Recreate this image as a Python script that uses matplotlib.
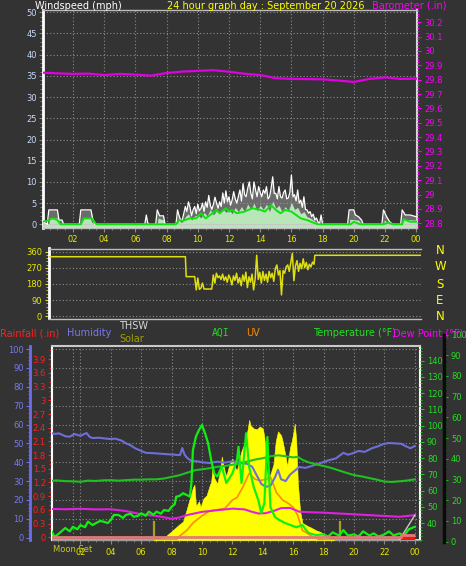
import matplotlib
matplotlib.use('Agg')
import matplotlib.pyplot as plt
import numpy as np
from matplotlib.ticker import FixedLocator, FuncFormatter, MultipleLocator

W, H = 466, 566
BG = '#333333'
GRID = '#8a8a8a'

# ---------------- data ----------------
hour_ticks = [2, 4, 6, 8, 10, 12, 14, 16, 18, 20, 22, 24]
hour_labels = ['02', '04', '06', '08', '10', '12', '14', '16', '18', '20', '22', '00']

baro_t = list(range(25))
baro = [29.849, 29.844, 29.840, 29.842, 29.832, 29.840, 29.835, 29.828, 29.846, 29.856,
        29.861, 29.866, 29.855, 29.841, 29.832, 29.810, 29.805, 29.804, 29.802, 29.794,
        29.784, 29.805, 29.816, 29.805, 29.807]

gust_t = [0.0, 0.15, 0.35, 0.45, 1.0, 1.1, 1.3, 1.4, 2.4, 2.5, 3.15, 3.25, 3.4, 6.6, 6.7, 6.8,
          7.3, 7.4, 7.55, 7.8, 7.9, 8.6, 8.7, 8.8, 8.9,
          9.0, 9.1, 9.2, 9.3, 9.4, 9.5, 9.6, 9.7, 9.8, 9.9,
          10.0, 10.1, 10.2, 10.3, 10.4, 10.5, 10.6, 10.7, 10.8, 10.9,
          11.0, 11.1, 11.2, 11.3, 11.4, 11.5, 11.6, 11.7, 11.8, 11.9,
          12.0, 12.1, 12.2, 12.3, 12.4, 12.5, 12.6, 12.7, 12.8, 12.9,
          13.0, 13.1, 13.2, 13.3, 13.4, 13.5, 13.6, 13.7, 13.8, 13.9,
          14.0, 14.1, 14.2, 14.3, 14.4, 14.5, 14.6, 14.7, 14.8, 14.9,
          15.0, 15.1, 15.2, 15.3, 15.4, 15.5, 15.6, 15.7, 15.8, 15.9,
          16.0, 16.1, 16.2, 16.3, 16.4, 16.5, 16.6, 16.7, 16.8, 16.9,
          17.0, 17.1, 17.2, 17.3, 17.4, 17.5, 17.6, 17.7, 17.8, 17.9, 18.0,
          18.1, 19.6, 19.7, 20.0, 20.1, 20.3, 20.5, 20.6, 21.8, 21.9, 22.1, 22.3, 22.5,
          23.0, 23.1, 23.3, 23.6, 24.0]
gust = [2.2, 0.5, 0.0, 3.4, 3.4, 1.0, 1.0, 0.0, 0.0, 3.4, 3.4, 1.5, 0.0, 0.0, 2.2, 0.0,
        0.0, 3.4, 2.0, 2.0, 0.0, 0.0, 3.4, 2.0, 1.0,
        1.0, 2.5, 4.2, 3.0, 5.3, 4.0, 2.0, 3.4, 4.2, 2.5,
        4.7, 3.2, 3.7, 5.0, 3.0, 5.3, 4.0, 6.8, 4.5, 3.5,
        4.7, 6.4, 5.0, 3.8, 5.3, 4.2, 7.4, 5.0, 7.9, 5.3,
        6.5, 4.5, 5.7, 7.7, 6.0, 5.0, 6.5, 8.1, 5.5, 9.6,
        7.0, 6.5, 8.5, 10.0, 7.3, 6.0, 10.0, 8.1, 6.5, 8.9,
        7.5, 6.5, 8.1, 7.3, 8.9, 6.0, 6.5, 8.5, 11.2, 7.3,
        7.3, 6.0, 8.9, 6.5, 6.2, 7.5, 8.1, 6.0, 6.2, 7.5,
        11.6, 6.5, 7.0, 5.5, 8.1, 5.0, 5.7, 4.0, 6.5, 3.5,
        3.4, 2.6, 3.0, 1.8, 2.4, 1.0, 1.5, 0.6, 0.0, 2.2, 0.0,
        0.0, 0.0, 3.4, 3.4, 2.2, 1.8, 1.0, 0.0, 0.0, 3.4, 1.8, 0.6, 0.0,
        0.0, 3.4, 2.2, 2.2, 1.8]

speed_t = [0.0, 0.2, 0.45, 0.5, 1.0, 1.1, 1.3, 2.5, 2.6, 3.1, 3.2, 3.4, 6.7, 6.75, 6.85,
           7.4, 7.45, 7.8, 7.9, 8.7, 8.75, 8.9,
           9.0, 9.2, 9.4, 9.6, 9.8, 10.0, 10.2, 10.4, 10.6, 10.8, 11.0, 11.2, 11.4, 11.6, 11.8,
           12.0, 12.2, 12.4, 12.6, 12.8, 13.0, 13.2, 13.4, 13.6, 13.8, 14.0, 14.2, 14.4, 14.6,
           14.8, 15.0, 15.2, 15.4, 15.6, 15.8, 16.0, 16.2, 16.4, 16.6, 16.8, 17.0, 17.2, 17.4,
           17.6, 17.8, 18.0,
           19.7, 19.75, 20.3, 20.5, 21.9, 21.95, 22.3, 23.1, 23.15, 24.0]
speed = [1.0, 0.0, 0.0, 1.5, 1.5, 0.5, 0.0, 0.0, 1.5, 1.5, 0.5, 0.0, 0.0, 1.0, 0.0,
         0.0, 1.5, 1.0, 0.0, 0.0, 1.5, 0.5,
         0.5, 1.8, 2.5, 1.0, 2.0, 2.2, 1.5, 2.8, 2.0, 3.5, 2.2, 3.2, 2.5, 3.8, 2.8,
         3.5, 2.5, 4.0, 3.0, 4.2, 3.0, 4.8, 3.5, 5.0, 3.2, 4.5, 3.5, 4.8, 3.0,
         5.5, 3.8, 4.5, 3.0, 4.2, 3.2, 5.2, 3.5, 4.0, 2.5, 3.0, 1.8, 1.5, 1.0,
         0.5, 0.2, 0.0,
         0.0, 1.2, 1.0, 0.0, 0.0, 1.0, 0.0, 0.0, 1.2, 1.0]

avg_t = [0, 0.3, 0.7, 1.0, 1.2, 2.5, 2.7, 3.2, 3.5, 8.6, 8.8, 9.0, 9.5, 9.9, 10.2, 10.5,
         10.8, 11.2, 11.4, 11.8, 12.0, 12.2, 12.5, 13.0, 13.5, 14.0, 14.3, 14.7, 15.0, 15.3,
         15.6, 16.0, 16.3, 16.6, 17.0, 17.4, 17.7, 19.8, 20.0, 20.4, 21.9, 22.2, 22.5, 23.1,
         23.2, 23.6, 24.0]
avg = [0.6, 0.8, 1.4, 1.0, 0.0, 0.0, 1.4, 1.4, 0.0, 0.0, 1.0, 0.8, 1.4, 1.4, 2.6, 1.4,
       2.2, 3.4, 2.6, 3.8, 3.0, 3.4, 2.6, 3.0, 3.8, 3.4, 3.0, 4.5, 3.4, 2.6,
       3.4, 3.0, 2.2, 1.4, 1.0, 0.4, 0.0, 0.0, 0.6, 0.0, 0.0, 0.4, 0.0, 0.0,
       1.2, 0.6, 0.6]

dir_t = [0.0, 8.8, 8.85, 9.4,
         9.5, 9.6, 9.7, 9.8, 9.9, 10.0, 10.1, 10.2, 10.3, 10.4, 10.5, 10.6, 10.7, 10.8, 10.9,
         11.0, 11.1, 11.2, 11.3, 11.4, 11.5, 11.6, 11.7, 11.8, 11.9,
         12.0, 12.1, 12.2, 12.3, 12.4, 12.5, 12.6, 12.7, 12.8, 12.9,
         13.0, 13.1, 13.2, 13.3, 13.4, 13.5, 13.6, 13.7, 13.8, 13.9,
         14.0, 14.1, 14.2, 14.3, 14.4, 14.5, 14.6, 14.7, 14.8, 14.9,
         15.0, 15.1, 15.2, 15.3, 15.4, 15.5, 15.6, 15.7, 15.8, 15.9,
         16.0, 16.1, 16.2, 16.3, 16.4, 16.5, 16.6, 16.7, 16.8, 16.9,
         17.0, 17.1, 17.15, 24.0]
dir_v = [332, 332, 221, 221,
         147, 213, 150, 157, 185, 152, 152, 152, 152, 152, 152, 230, 185, 240, 215,
         225, 205, 235, 200, 220, 190, 230, 210, 175, 225,
         200, 240, 185, 215, 170, 230, 195, 246, 160, 220,
         190, 235, 147, 210, 340, 205, 245, 185, 250, 200,
         235, 190, 250, 215, 240, 195, 265, 286, 230, 255,
         119, 255, 240, 275, 286, 250, 300, 351, 198, 280,
         310, 250, 295, 265, 320, 270, 300, 260, 290, 275,
         302, 290, 340, 340]

hum_t = [0, 0.3, 0.6, 1.0, 1.3, 1.6, 2.0, 2.4, 2.6, 2.8, 3.2, 3.6, 4.0, 4.3, 4.7, 5.0, 5.3,
         5.6, 6.0, 6.3, 6.8, 7.3, 7.8, 8.2, 8.55, 8.7, 8.85, 9.0, 9.3, 9.7, 10.0, 10.5, 11.0,
         11.5, 12.0, 12.5, 13.0, 13.3, 13.6, 13.9, 14.2, 14.5, 14.8, 15.0, 15.2, 15.5, 15.8,
         16.1, 16.4, 16.8, 17.2, 17.8, 18.3, 18.8, 19.3, 19.6, 19.9, 20.3, 20.7, 21.2, 21.6,
         21.9, 22.3, 22.7, 23.1, 23.4, 23.7, 24.0]
hum = [55.6, 55.0, 55.3, 53.8, 53.5, 55.0, 54.0, 55.5, 53.5, 52.8, 53.0, 52.6, 52.3, 52.5,
       51.5, 50.0, 49.0, 47.4, 46.0, 45.0, 44.8, 44.5, 44.2, 44.0, 43.8, 47.5, 44.0, 42.5,
       40.6, 40.5, 40.0, 39.6, 40.3, 39.8, 40.5, 40.0, 39.0, 37.6, 33.0, 28.5, 27.0, 27.5,
       32.0, 36.0, 31.0, 30.0, 33.5, 35.5, 37.5, 37.0, 38.0, 39.6, 41.0, 42.0, 45.0, 44.0,
       44.7, 46.0, 45.5, 47.5, 48.5, 49.6, 50.2, 50.0, 49.8, 48.5, 47.4, 48.6]

temp_t = [0, 0.5, 1.0, 1.5, 2.0, 2.5, 3.0, 3.5, 4.0, 4.5, 5.0, 5.5, 6.0, 6.5, 7.0, 7.5, 8.0,
          8.5, 9.0, 9.5, 10.0, 10.5, 11.0, 11.5, 12.0, 12.5, 13.0, 13.5, 14.0, 14.5, 15.0,
          15.5, 16.0, 16.3, 16.6, 17.0, 17.5, 18.0, 18.5, 19.0, 19.5, 20.0, 20.5, 21.0, 21.5,
          22.0, 22.5, 23.0, 23.5, 24.0]
temp = [66.1, 66.3, 65.9, 65.8, 65.5, 66.2, 66.0, 66.4, 66.5, 66.2, 66.5, 66.8, 66.8, 67.0,
        67.0, 67.5, 68.5, 69.5, 71.0, 72.5, 73.2, 73.8, 74.7, 75.2, 76.0, 76.7, 78.0, 79.2,
        80.0, 81.2, 81.8, 81.2, 80.5, 80.8, 79.0, 77.5, 76.2, 75.2, 74.0, 72.5, 71.0, 69.6,
        68.8, 67.8, 66.8, 65.6, 65.4, 65.8, 66.3, 67.0]

dew_t = [0, 1, 2, 3, 4, 5, 6, 7, 8, 8.5, 9, 9.5, 10, 11, 12, 12.8, 13.3, 13.7, 14.2, 14.7,
         15.2, 15.8, 16.4, 17, 18, 19, 20, 21, 22, 23, 24]
dew = [48.8, 48.6, 48.9, 48.5, 48.6, 47.5, 45.5, 44.5, 42.8, 43.5, 45.0, 46.0, 47.0, 48.0,
       49.0, 48.5, 47.0, 46.0, 46.2, 47.5, 49.3, 49.4, 47.1, 46.8, 46.5, 46.0, 45.5, 45.0,
       44.5, 44.0, 45.0]

thsw_t = [23.0, 24.0]
thsw = [30.0, 45.0]

solar_t = [6.8, 7.0, 7.5, 8.0, 8.5, 8.75, 9.0, 9.2, 9.4, 9.5, 9.6, 9.8, 9.9, 10.1, 10.3, 10.5,
           10.6, 10.7, 10.8, 11.0, 11.2, 11.3, 11.5, 11.6, 11.8, 12.0, 12.2, 12.3, 12.5, 12.6,
           12.8, 12.9, 13.0, 13.1, 13.2, 13.4, 13.6, 13.8, 14.0, 14.1, 14.2, 14.3, 14.5, 14.7,
           14.85, 15.0, 15.2, 15.3, 15.5, 15.6, 15.8, 15.9, 16.0, 16.1, 16.2, 16.3, 16.45,
           16.6, 17.0, 17.1, 17.5, 17.8, 18.0, 18.2, 18.5, 18.7]
solar = [0, 3, 12, 45, 80, 95, 160, 215, 270, 285, 175, 200, 170, 215, 230, 280,
         300, 380, 320, 290, 360, 430, 350, 330, 390, 420, 370, 360, 430, 460,
         500, 530, 570, 619, 590, 575, 570, 585, 575, 530, 420, 300, 340, 390,
         510, 560, 540, 510, 430, 380, 480, 510, 550, 600, 510, 300, 150,
         88, 70, 67, 50, 41, 30, 15, 3, 0]

uv_t = [0, 8.3, 8.4, 9.0, 9.4, 10.0, 10.5, 11.0, 11.5, 12.0, 12.3, 12.7, 13.1, 13.5, 13.8,
        14.2, 14.5, 14.9, 15.3, 15.7, 16.0, 16.3, 16.6, 17.0, 17.3, 17.7, 18.0, 24.0]
uv = [0, 0, 0.2, 0.8, 1.4, 2.0, 2.4, 2.5, 2.6, 3.3, 3.5, 4.4, 5.5, 5.0, 4.9,
      5.0, 5.2, 3.9, 3.3, 3.0, 2.7, 2.0, 0.8, 0.5, 0.25, 0.05, 0, 0]

aqi_t = [0, 0.3, 0.6, 1.0, 1.3, 1.5, 1.8, 2.0, 2.3, 2.5, 2.8, 3.0, 3.3, 3.5, 3.8, 4.0, 4.2,
         4.5, 4.8, 5.0, 5.3, 5.5, 5.8, 6.0, 6.3, 6.5, 6.8, 7.0, 7.3, 7.5, 7.8, 8.0, 8.2, 8.3,
         8.5, 8.75, 9.0, 9.2, 9.3, 9.4, 9.6, 9.8, 10.0, 10.2, 10.4, 10.6, 10.8, 11.0, 11.3,
         11.6, 12.0, 12.3, 12.4, 12.6, 12.9, 13.1, 13.4, 13.7, 13.9, 14.1, 14.3, 14.5, 14.8,
         15.1, 15.5, 16.2, 16.6, 17.0, 17.5, 18.0, 18.3, 18.6, 19.0, 19.3, 19.6, 20.0, 20.3,
         20.6, 21.0, 21.3, 21.6, 22.0, 22.3, 22.6, 23.0, 23.3, 23.6, 24.0]
aqi = [6.6, 2.3, 4.0, 6.6, 5.0, 7.2, 6.0, 8.0, 7.0, 9.7, 8.0, 8.9, 10.0, 9.7, 9.0, 10.5,
       12.9, 12.9, 11.5, 12.9, 13.5, 12.0, 12.5, 13.7, 12.5, 14.5, 13.0, 14.5, 13.5, 15.3,
       14.8, 16.9, 18.0, 21.7, 22.0, 23.4, 22.5, 21.7, 28.0, 44.2, 50.7, 53.9, 56.3, 52.3,
       47.5, 39.4, 33.0, 31.4, 36.2, 28.3, 33.0, 39.4, 45.8, 28.3, 52.3, 36.0, 26.4, 20.1,
       13.8, 18.6, 50.5, 16.7, 11.9, 10.4, 8.9, 7.0, 8.0, 4.2, 3.2, 3.5, 2.5, 4.5, 3.0,
       5.6, 3.0, 3.5, 2.5, 5.0, 3.0, 4.0, 2.5, 3.5, 5.0, 3.0, 4.0, 3.0, 6.0, 7.2]

rain_t = [0.0, 23.1, 23.1, 24.0]
rain = [0.0, 0.0, 0.04, 0.04]

sun_marks = [6.85, 19.1]
moon_set = 1.5


# ---------------- helpers ----------------
def rect(l, t, r, b):
    return [l / W, 1 - b / H, (r - l) / W, (b - t) / H]


def fx(x):
    return x / W


def fy(y):
    return 1 - y / H


def fmt_num(v, p=None):
    s = ('%.1f' % v)
    if s.endswith('.0'):
        s = s[:-2]
    return s


plt.rcParams['font.family'] = 'DejaVu Sans'
TS = 7.0      # title / legend text size
KS = 6.0      # tick label size

fig = plt.figure(figsize=(W / 100, H / 100), dpi=100, facecolor=BG)

# ======== panel 1: wind speed + barometer ========
ax1 = fig.add_axes(rect(43, 10, 417, 228), facecolor=BG)
ax1.set_xlim(0.077, 24.05)
ax1.set_ylim(-0.87, 50.54)
ax1.fill_between(gust_t, 0, gust, color='#9a9a9a', lw=0, alpha=0.55, zorder=2)
ax1.plot(gust_t, gust, color='white', lw=0.9, zorder=4)
ax1.fill_between(speed_t, -0.6, speed, color='#b8e6b8', lw=0, zorder=3)
ax1.axhline(0.05, color='#c8c8c8', lw=1.0, zorder=3)
ax1.axhline(-0.6, color='#b8e6b8', lw=1.6, zorder=3)
avg_arr = np.array(avg, dtype=float)
keep = np.zeros(len(avg_arr), dtype=bool)
for i in range(len(avg_arr)):
    lo, hi = max(0, i - 1), min(len(avg_arr), i + 2)
    keep[i] = avg_arr[lo:hi].max() > 0
avg_plot = np.where(keep, avg_arr, np.nan)
ax1.plot(avg_t, avg_plot, color='#10e010', lw=1.4, zorder=5)

ax1.yaxis.set_major_locator(FixedLocator(list(range(0, 51, 5))))
ax1.yaxis.set_minor_locator(MultipleLocator(1))
ax1.yaxis.set_major_formatter(FuncFormatter(fmt_num))
ax1.tick_params(axis='y', which='major', colors='#8a8a8a', labelcolor='#c8d8f8',
                labelsize=KS, length=3, pad=1.5)
ax1.tick_params(axis='y', which='minor', colors='#8a8a8a', length=2)
ax1.set_xticks(hour_ticks)
ax1.set_xticklabels(hour_labels)
ax1.xaxis.set_minor_locator(MultipleLocator(0.5))
ax1.tick_params(axis='x', which='major', colors='#8a8a8a', labelcolor='#e8e800',
                labelsize=KS, length=3, pad=2)
ax1.tick_params(axis='x', which='minor', colors='#8a8a8a', length=1.5)
ax1.grid(True, which='major', color=GRID, lw=0.8, ls=(0, (1, 2)))
for s, c, w in [('left', 'white', 2.0), ('right', '#d8d8d8', 1.5), ('top', '#bcbcbc', 1.0),
                ('bottom', '#bcbcbc', 1.0)]:
    ax1.spines[s].set_color(c)
    ax1.spines[s].set_linewidth(w)

ax1b = ax1.twinx()
ax1b.set_ylim(28.767, 30.285)
ax1b.plot(baro_t, baro, color='#e000e0', lw=1.6, zorder=6)
ax1b.yaxis.set_major_locator(FixedLocator([28.8 + 0.1 * i for i in range(15)]))
ax1b.yaxis.set_minor_locator(MultipleLocator(0.02))
ax1b.yaxis.set_major_formatter(FuncFormatter(fmt_num))
ax1b.tick_params(axis='y', which='major', colors='#ff00ff', labelcolor='#ff00ff',
                 labelsize=KS, length=3, pad=2)
ax1b.tick_params(axis='y', which='minor', colors='#ff00ff', length=1.5)
for s in ax1b.spines.values():
    s.set_visible(False)

fig.text(fx(35), fy(6), 'Windspeed (mph)', color='white', fontsize=TS, va='center', ha='left')
fig.text(fx(266), fy(6), '24 hour graph day : September 20 2026', color='#ffff00',
         fontsize=TS, va='center', ha='center')
fig.text(fx(372), fy(6), 'Barometer (.in)', color='#ff00ff', fontsize=TS, va='center',
         ha='left')

# ======== panel 2: wind direction ========
ax2 = fig.add_axes(rect(49, 248.5, 421, 318.5), facecolor=BG)
ax2.set_xlim(0, 24)
ax2.set_ylim(-12.3, 377.8)
ax2.plot(dir_t, dir_v, color='#dede10', lw=1.1, zorder=4)
ax2.set_xticks([])
ax2.yaxis.set_major_locator(FixedLocator([0, 90, 180, 270, 360]))
ax2.yaxis.set_minor_locator(MultipleLocator(18))
ax2.tick_params(axis='y', which='major', colors='#d8d820', labelcolor='#e8e800',
                labelsize=KS, length=3, pad=2)
ax2.tick_params(axis='y', which='minor', colors='#d8d820', length=2)
ax2.grid(True, axis='y', color=GRID, lw=0.8, ls=(0, (1, 2)))
ax2.spines['left'].set_color('white')
ax2.spines['left'].set_linewidth(2.0)
ax2.spines['right'].set_visible(False)
for s in ('top', 'bottom'):
    ax2.spines[s].set_color('#bcbcbc')
    ax2.spines[s].set_linewidth(1.0)
for lab, yy in zip(['N', 'W', 'S', 'E', 'N'], [250, 267, 284, 300, 317]):
    fig.text(fx(440), fy(yy), lab, color='#ffff00', fontsize=8.5, ha='center', va='center')

# ======== panel 3: multi-sensor ========
L3, T3, R3, B3 = 52, 346, 420, 540
ax3 = fig.add_axes(rect(L3, T3, R3, B3), facecolor=BG)
ax3.set_xlim(0.13, 24.34)
ax3.set_ylim(-0.06, 4.19)
ax3.set_xticks(hour_ticks)
ax3.set_xticklabels(hour_labels)
ax3.xaxis.set_minor_locator(MultipleLocator(0.5))
ax3.tick_params(axis='x', which='major', colors='#8a8a8a', labelcolor='#e8e800',
                labelsize=KS, length=3, pad=3)
ax3.tick_params(axis='x', which='minor', colors='#8a8a8a', length=1.5)
ax3.yaxis.set_major_locator(FixedLocator([0.3 * i for i in range(14)]))
ax3.yaxis.set_minor_locator(MultipleLocator(0.1))
ax3.yaxis.set_major_formatter(FuncFormatter(fmt_num))
ax3.tick_params(axis='y', which='major', colors='#ff2020', labelcolor='#ff2020',
                labelsize=KS, length=3, pad=1.5)
ax3.tick_params(axis='y', which='minor', colors='#ff2020', length=2)
ax3.xaxis.grid(True, color=GRID, lw=0.8, ls=(0, (1, 2)))
ax3.axvline(moon_set, color=GRID, lw=0.8, ls=(0, (1, 2)))
for s, c, w in [('left', 'white', 1.5), ('right', 'white', 1.5), ('top', '#c8c8c8', 1.5),
                ('bottom', '#9a9a9a', 1.0)]:
    ax3.spines[s].set_color(c)
    ax3.spines[s].set_linewidth(w)

# horizontal grid following humidity scale
axG = ax3.twinx()
axG.set_ylim(-1.2, 101.6)
for v in range(10, 101, 10):
    axG.axhline(v, color=GRID, lw=0.8, ls=(0, (1, 2)), zorder=1)
axG.set_yticks([])
for s in axG.spines.values():
    s.set_visible(False)

# solar
axS = ax3.twinx()
axS.set_ylim(0, 1000)
axS.fill_between(solar_t, 0, solar, color='#ffff00', lw=0.4, edgecolor='#ffff00', zorder=2)
for t in sun_marks:
    axS.plot([t, t], [0, 95], color='#a8a020', lw=1.6, zorder=3)
axS.axhline(2, color='#ffff00', lw=2.0)
axS.set_yticks([])
for s in axS.spines.values():
    s.set_visible(False)

# UV
axU = ax3.twinx()
axU.set_ylim(0, 16)
axU.plot(uv_t, uv, color='#ff8c00', lw=1.2)
axU.set_yticks([])
for s in axU.spines.values():
    s.set_visible(False)

# humidity
axH = ax3.twinx()
axH.set_ylim(-1.2, 101.6)
axH.plot(hum_t, hum, color='#6e6ed8', lw=1.5)
axH.yaxis.set_ticks_position('left')
axH.yaxis.set_label_position('left')
axH.spines['left'].set_visible(True)
axH.spines['left'].set_position(('outward', 22 * 0.72))
axH.spines['left'].set_color('#6e6ee8')
axH.spines['left'].set_linewidth(2.0)
axH.spines['right'].set_visible(False)
axH.spines['top'].set_visible(False)
axH.spines['bottom'].set_visible(False)
axH.yaxis.set_major_locator(FixedLocator(list(range(0, 101, 10))))
axH.yaxis.set_minor_locator(MultipleLocator(2))
axH.tick_params(axis='y', which='major', colors='#6e6ee8', labelcolor='#7878f0',
                labelsize=KS, length=3, pad=1.5, left=True, labelleft=True,
                right=False, labelright=False)
axH.tick_params(axis='y', which='minor', colors='#6e6ee8', length=1.5, left=True, right=False)

# temperature / dew point / THSW
axT = ax3.twinx()
axT.set_ylim(29.7, 149.0)
axT.plot(temp_t, temp, color='#20c020', lw=1.5)
axT.plot(dew_t, dew, color='#e020e0', lw=1.5)
axT.plot(thsw_t, thsw, color='#c8c8c8', lw=1.0)
axT.yaxis.set_major_locator(FixedLocator(list(range(40, 141, 10))))
axT.yaxis.set_minor_locator(MultipleLocator(2))
axT.tick_params(axis='y', which='major', colors='#10d010', labelcolor='#20e020',
                labelsize=KS, length=3, pad=2)
axT.tick_params(axis='y', which='minor', colors='#10d010', length=1.5)
for s in axT.spines.values():
    s.set_visible(False)

# AQI
axQ = ax3.twinx()
axQ.set_ylim(0.82, 94.4)
axQ.plot(aqi_t, aqi, color='#10f010', lw=1.6)
axQ.set_yticks([])
for s in axQ.spines.values():
    s.set_visible(False)

# rainfall
axR = ax3.twinx()
axR.set_ylim(-0.06, 4.19)
axR.plot(rain_t, rain, color='#e07a7a', lw=2.0, solid_capstyle='butt')
axR.fill_between(rain_t, -0.06, rain, where=np.array(rain) > 0, color='#ff1010', lw=0)
axR.set_yticks([])
for s in axR.spines.values():
    s.set_visible(False)

# separate AQI scale on far right
axA = fig.add_axes(rect(443, 334.5, 444, 541.7), facecolor='none')
axA.set_ylim(0, 100)
axA.set_xticks([])
for s in ('left', 'top', 'bottom'):
    axA.spines[s].set_visible(False)
axA.spines['right'].set_color('#0a0a0a')
axA.spines['right'].set_linewidth(2.5)
axA.yaxis.tick_right()
axA.yaxis.set_major_locator(FixedLocator(list(range(0, 101, 10))))
axA.yaxis.set_minor_locator(MultipleLocator(2))
axA.tick_params(axis='y', which='major', colors='#10c010', labelcolor='#20e020',
                labelsize=KS, length=3, pad=2)
axA.tick_params(axis='y', which='minor', colors='#10a010', length=1.5)

# legend texts
fig.text(fx(0), fy(333), 'Rainfall (.in)', color='#ff2020', fontsize=TS, va='center')
fig.text(fx(67), fy(333), 'Humidity', color='#7878f0', fontsize=TS, va='center')
fig.text(fx(119), fy(326), 'THSW', color='#d8d8d8', fontsize=TS, va='center')
fig.text(fx(119), fy(339), 'Solar', color='#a0a000', fontsize=TS, va='center')
fig.text(fx(212), fy(333), 'AQI', color='#20e020', fontsize=TS, va='center',
         family='DejaVu Sans Mono')
fig.text(fx(246), fy(333), 'UV', color='#ff8c00', fontsize=TS, va='center')
fig.text(fx(313), fy(333), 'Temperature (\u00b0F)', color='#20e020', fontsize=TS, va='center')
fig.text(fx(393), fy(333), 'Dew Point (\u00b0F)', color='#ff00ff', fontsize=TS, va='center')
fig.text(fx(73), fy(550), 'Moon Set', color='#c8c820', fontsize=KS, va='center', ha='center')

fig.savefig('out.png', dpi=100, facecolor=BG)
